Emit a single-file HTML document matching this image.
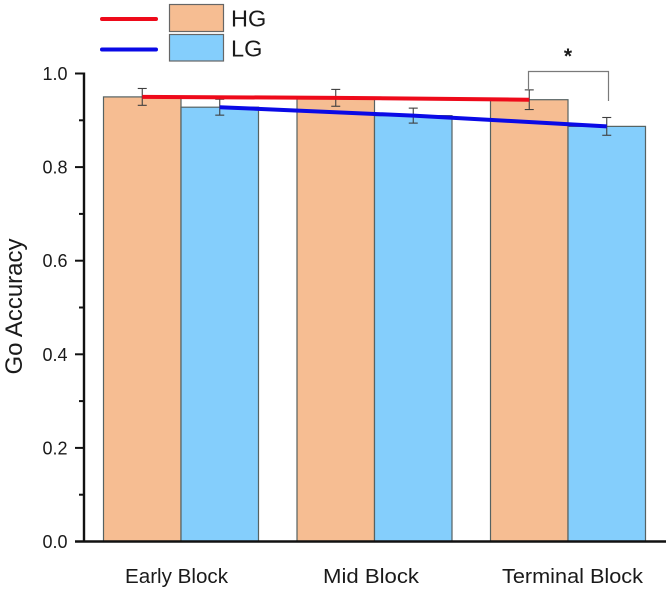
<!DOCTYPE html>
<html>
<head>
<meta charset="utf-8">
<style>
html,body{margin:0;padding:0;background:#fff;width:670px;height:593px;overflow:hidden}
svg{display:block;filter:blur(0.35px)}
text{font-family:"Liberation Sans",sans-serif;fill:#1a1a1a}
</style>
</head>
<body>
<svg id="chart" width="670" height="593" viewBox="0 0 670 593" xmlns="http://www.w3.org/2000/svg">
  <g id="bars"></g>
  <g id="errors"></g>
  <g id="lines"></g>
  <g id="axes"></g>

  <g>
    <line x1="102" y1="19" x2="156" y2="19" stroke="#ee0a1a" stroke-width="4" stroke-linecap="round"/>
    <rect x="169.5" y="4.5" width="54" height="27" fill="#f6bd92" stroke="#666" stroke-width="1.2"/>
    <text x="231" y="26.5" font-size="23.5">HG</text>
    <line x1="102" y1="49.5" x2="156" y2="49.5" stroke="#0a0ae6" stroke-width="4" stroke-linecap="round"/>
    <rect x="169.5" y="34.5" width="54" height="26.5" fill="#84cefc" stroke="#666" stroke-width="1.2"/>
    <text x="231" y="56.5" font-size="23.5">LG</text>
  </g>

  <g>
    <polyline points="528.5,90 528.5,71.5 608.5,71.5 608.5,101" fill="none" stroke="#7a7a7a" stroke-width="1.2"/>
    <text x="568" y="63" font-size="21" font-weight="bold" text-anchor="middle">*</text>
  </g>

  <text transform="translate(22,306.5) rotate(-90)" font-size="24" text-anchor="middle">Go Accuracy</text>
</svg>
<script>
var categories = ["Early Block", "Mid Block", "Terminal Block"];
var hgValues = [0.950, 0.948, 0.944];
var lgValues = [0.928, 0.910, 0.887];
var hgErrors = [0.018, 0.018, 0.021];
var lgErrors = [0.017, 0.016, 0.019];
var yTickLabels = ["0.0", "0.2", "0.4", "0.6", "0.8", "1.0"];
var yMinorTicks = [0.1, 0.3, 0.5, 0.7, 0.9];

var NS = "http://www.w3.org/2000/svg";
function yScale(v){ return 541.5 - v * 468; }
function groupCenter(i){ return 181 + i * 193.5; }
var BAR_W = 77.5;
function hgLeft(i){ return groupCenter(i) - BAR_W; }
function lgLeft(i){ return groupCenter(i); }

function make(parent, tag, attrs){
  var el = document.createElementNS(NS, tag);
  for (var k in attrs) el.setAttribute(k, attrs[k]);
  parent.appendChild(el);
  return el;
}

var barsG = document.getElementById("bars");
var errG = document.getElementById("errors");
var linesG = document.getElementById("lines");
var axesG = document.getElementById("axes");

function drawBar(left, value, fill, name){
  var el = make(barsG, "rect", {x:left, y:yScale(value), width:BAR_W, height:yScale(0)-yScale(value), fill:fill, stroke:"#566262", "stroke-width":1.2});
  
  
}
function drawError(x, value, err, name){
  var g = make(errG, "g", {stroke:"#3f3f3f", "stroke-width":1.1, fill:"none"});
  
  
  make(g, "line", {x1:x, x2:x, y1:yScale(value+err), y2:yScale(value-err)});
  make(g, "line", {x1:x-4.5, x2:x+4.5, y1:yScale(value+err), y2:yScale(value+err)});
  make(g, "line", {x1:x-4.5, x2:x+4.5, y1:yScale(value-err), y2:yScale(value-err)});
}

categories.forEach(function(c, i){
  drawBar(hgLeft(i), hgValues[i], "#f6bd92", "bar-hg-" + (i+1));
  drawBar(lgLeft(i), lgValues[i], "#84cefc", "bar-lg-" + (i+1));
  drawError(hgLeft(i)+BAR_W/2, hgValues[i], hgErrors[i], "error-bar-hg-" + (i+1));
  drawError(lgLeft(i)+BAR_W/2, lgValues[i], lgErrors[i], "error-bar-lg-" + (i+1));
});

var hgPts = hgValues.map(function(v,i){ return (hgLeft(i)+BAR_W/2) + "," + yScale(v); }).join(" ");
var lgPts = lgValues.map(function(v,i){ return (lgLeft(i)+BAR_W/2) + "," + yScale(v); }).join(" ");
var hgLine = make(linesG, "polyline", {points:hgPts, fill:"none", stroke:"#ee0a1a", "stroke-width":4});


var lgLine = make(linesG, "polyline", {points:lgPts, fill:"none", stroke:"#0a0ae6", "stroke-width":4});



var yAxis = make(axesG, "line", {x1:84, x2:84, y1:yScale(1)-1, y2:yScale(0), stroke:"#111", "stroke-width":2.4});


var xAxis = make(axesG, "line", {x1:75, x2:666, y1:yScale(0), y2:yScale(0), stroke:"#111", "stroke-width":2.4});



yTickLabels.forEach(function(label){
  var v = parseFloat(label);
  var tick = make(axesG, "line", {x1:75, x2:84, y1:yScale(v), y2:yScale(v), stroke:"#111", "stroke-width":2});
  
  
  var t = make(axesG, "text", {x:67.5, y:yScale(v)+6.5, "font-size":18, "text-anchor":"end"});
  t.textContent = label;
  
  
});
yMinorTicks.forEach(function(v){
  var tick = make(axesG, "line", {x1:79, x2:84, y1:yScale(v), y2:yScale(v), stroke:"#111", "stroke-width":2});
  
  
});
categories.forEach(function(c, i){
  var t = make(axesG, "text", {x:[176.5,371,572.5][i], y:583, "font-size":20, "text-anchor":"middle", textLength:[103,96,141][i], lengthAdjust:"spacingAndGlyphs"});
  t.textContent = c;
  
  
});
</script>
</body>
</html>
